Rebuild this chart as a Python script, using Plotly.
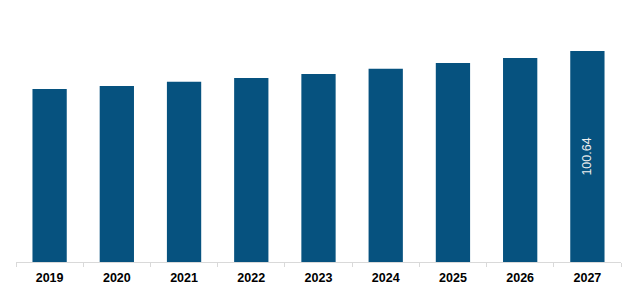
import plotly.graph_objects as go

years = ["2019", "2020", "2021", "2022", "2023", "2024", "2025", "2026", "2027"]
values = [82.5, 83.9, 85.9, 87.8, 89.7, 92.1, 94.9, 97.3, 100.64]
labels = ["", "", "", "", "", "", "", "", "100.64"]

fig = go.Figure(go.Bar(
    x=years, y=values, text=labels,
    marker=dict(color="#06527f", line=dict(width=0)),
    width=0.51,
    textposition="inside", insidetextanchor="middle", textangle=-90,
    textfont=dict(family="Liberation Sans, Arial", size=12.5, color="#eeeeee"),
    cliponaxis=False,
))
fig.update_layout(
    width=638, height=294,
    margin=dict(l=16, r=17, t=20, b=32, autoexpand=False),
    paper_bgcolor="white", plot_bgcolor="white",
    showlegend=False, bargap=0.49,
    xaxis=dict(showline=True, linecolor="#d9d9d9", linewidth=1, automargin=False,
               ticks="outside", tickson="boundaries", ticklen=4, tickcolor="#d9d9d9",
               ticklabelstandoff=4,
               tickfont=dict(family="Liberation Sans, Arial", size=12.5, color="#000", weight="bold"),
               showgrid=False),
    yaxis=dict(visible=False, range=[0, 115.4], showgrid=False),
)
fig.write_html("out.html")
